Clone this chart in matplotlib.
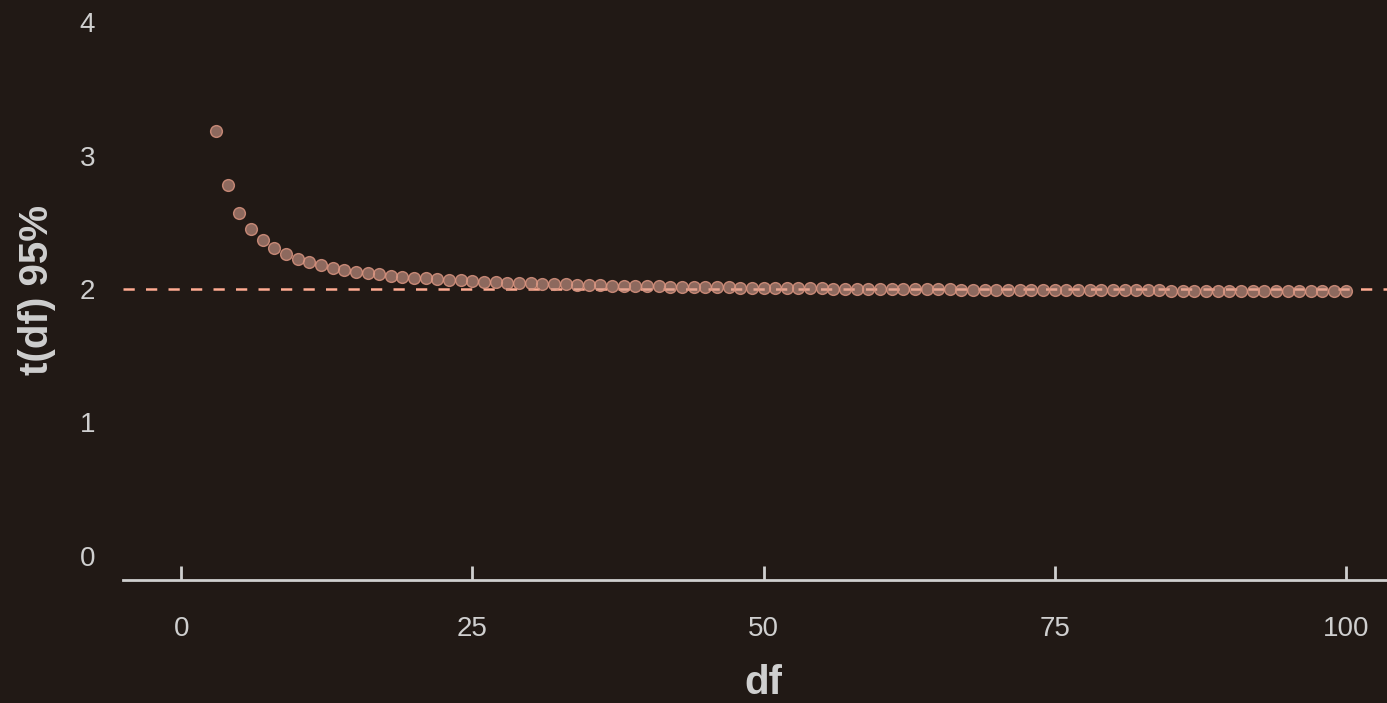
import numpy as np
import matplotlib
matplotlib.use('Agg')
import matplotlib.pyplot as plt

# critical t values (two-sided 95%) for df = 3 .. 100
df = list(range(3, 101))
t95 = [3.182, 2.776, 2.571, 2.447, 2.365, 2.306, 2.262, 2.228, 2.201, 2.179,
       2.160, 2.145, 2.131, 2.120, 2.110, 2.101, 2.093, 2.086, 2.080, 2.074,
       2.069, 2.064, 2.060, 2.056, 2.052, 2.048, 2.045, 2.042, 2.040, 2.037,
       2.035, 2.032, 2.030, 2.028, 2.026, 2.024, 2.023, 2.021, 2.020, 2.018,
       2.017, 2.015, 2.014, 2.013, 2.012, 2.011, 2.010, 2.009, 2.008, 2.007,
       2.006, 2.005, 2.004, 2.003, 2.002, 2.002, 2.001, 2.000, 2.000, 1.999,
       1.998, 1.998, 1.997, 1.997, 1.996, 1.995, 1.995, 1.994, 1.994, 1.993,
       1.993, 1.993, 1.992, 1.992, 1.991, 1.991, 1.990, 1.990, 1.990, 1.989,
       1.989, 1.989, 1.988, 1.988, 1.988, 1.987, 1.987, 1.987, 1.986, 1.986,
       1.986, 1.986, 1.985, 1.985, 1.985, 1.984, 1.984, 1.984]
ref_line = 2.0   # rule-of-thumb value
xticks = [0, 25, 50, 75, 100]
yticks = [0, 1, 2, 3, 4]

bg = '#211915'
fg = '#cfcfcf'
salmon = '#ffab92'

plt.rcParams['font.family'] = ['Liberation Sans', 'DejaVu Sans']

fig = plt.figure(figsize=(13.87, 7.03), dpi=100, facecolor=bg)
# panel runs a little past the right edge of the figure
ax = fig.add_axes([123 / 1387, 123 / 703, (1404 - 123) / 1387, 1 - 123 / 703])
ax.set_facecolor(bg)

ax.axhline(ref_line, color=salmon, lw=1.8, dashes=(4.5, 4.5), zorder=2)
ax.scatter(df, t95, s=72, facecolors=(0.843, 0.627, 0.561, 0.6),
           edgecolors=(0.85, 0.58, 0.50, 0.85), linewidths=1.0, zorder=3)

ax.set_xlim(-5, 105)
ax.set_ylim(-0.18, 4.165)
ax.set_xticks(xticks)
ax.set_yticks(yticks)

for side in ['top', 'right', 'left']:
    ax.spines[side].set_visible(False)
ax.spines['bottom'].set_color(fg)
ax.spines['bottom'].set_linewidth(2)

ax.tick_params(axis='x', direction='in', length=10, width=2, color=fg,
               labelcolor=fg, labelsize=20, pad=26)
ax.tick_params(axis='y', length=0, labelcolor=fg, labelsize=20, pad=20)

ax.set_xlabel('df', color=fg, fontsize=29, fontweight='bold', labelpad=16)
ax.set_ylabel('t(df) 95%', color=fg, fontsize=29, fontweight='bold', labelpad=17)

fig.savefig('out.png', dpi=100, facecolor=bg)
